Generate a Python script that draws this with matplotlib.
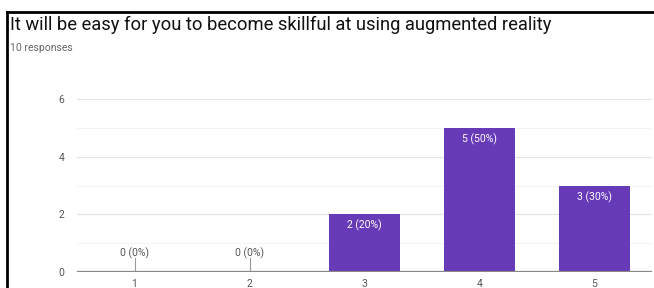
import matplotlib
matplotlib.use("Agg")
import matplotlib.pyplot as plt
from matplotlib.lines import Line2D

categories = ["1", "2", "3", "4", "5"]
counts = [0, 0, 2, 5, 3]
labels = ["0 (0%)", "0 (0%)", "2 (20%)", "5 (50%)", "3 (30%)"]
yticks = [0, 2, 4, 6]

plt.rcParams['font.family'] = ['Roboto', 'DejaVu Sans']

fig = plt.figure(figsize=(6.54, 2.88), dpi=100)
ax = fig.add_axes([77 / 654, 16 / 288, 575 / 654, 173 / 288])

x = list(range(len(categories)))
ax.bar(x, counts, width=0.626, color="#673ab7", zorder=3)

for i, (c, lab) in enumerate(zip(counts, labels)):
    if c > 0:
        ax.annotate(lab, (i, c), xytext=(0, -4), textcoords="offset points",
                    ha="center", va="top", color="white", fontsize=7.5, zorder=4)
    else:
        # zero bars get a small stem with the label above it
        ax.plot([i, i], [0, 0.5], color="#999999", lw=0.8, zorder=4)
        ax.annotate(lab, (i, 0.5), xytext=(0, 3), textcoords="offset points",
                    ha="center", va="center", color="#555555", fontsize=7.5, zorder=4)

ax.set_xlim(-0.5, 4.5)
ax.set_ylim(0, 6)
ax.set_xticks(x)
ax.set_xticklabels(categories)
ax.set_yticks(yticks)
ax.set_yticks([1, 3, 5], minor=True)
ax.grid(axis="y", which="major", color="#e4e4e4", lw=0.8, zorder=0)
ax.grid(axis="y", which="minor", color="#f3f3f3", lw=0.8, zorder=0)
ax.tick_params(axis="both", which="both", length=0, colors="#555555", labelsize=7.5)
ax.tick_params(axis="y", pad=9)
ax.tick_params(axis="x", pad=5)
for s in ax.spines.values():
    s.set_visible(False)
ax.axhline(0, color="#888888", lw=1.6, zorder=5)

fig.text(10 / 654, 1 - 25 / 288, "It will be easy for you to become skillful at using augmented reality",
         fontsize=13.2, color="#111111", va="center", ha="left")
fig.text(10 / 654, 1 - 48 / 288, "10 responses", fontsize=7.5, color="#666666",
         va="center", ha="left")

fig.add_artist(Line2D([7 / 654, 1], [1 - 12 / 288, 1 - 12 / 288], color="black", lw=2))
fig.add_artist(Line2D([7 / 654, 7 / 654], [0, 1 - 12 / 288], color="black", lw=2))

fig.savefig("out.png", dpi=100)
